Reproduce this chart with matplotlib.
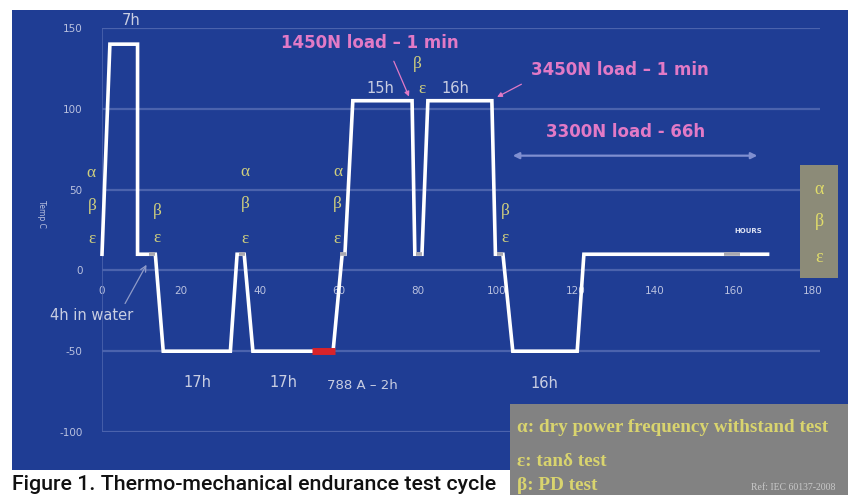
import matplotlib
matplotlib.use("Agg")
import matplotlib.pyplot as plt
from matplotlib.patches import Rectangle

plt.rcParams["axes.unicode_minus"] = False

# ---------------- data ----------------
time_h = [0, 2, 9, 9, 13.5, 15.5, 32.5, 34.2, 36, 38.2, 58.5, 60.8, 61.5, 63.5,
          78.5, 79.2, 81, 82.5, 98.7, 99.6, 101.5, 104, 120.3, 122, 168.5]
temp_c = [10, 140, 140, 10, 10, -50, -50, 10, 10, -50, -50, 10, 10, 105,
          105, 10, 10, 105, 105, 10, 10, -50, -50, 10, 10]
current_t = [53.2, 59.0]
current_T = [-50, -50]
test_marks_t = [[11.8, 13.4], [34.8, 36.3], [60.3, 61.8], [79.5, 81.0], [100.0, 101.6], [157.5, 161.5]]
test_marks_T = [10, 10, 10, 10, 10, 10]
x_ticks = [0, 20, 40, 60, 80, 100, 120, 140, 160, 180]
y_ticks = [-100, -50, 0, 50, 100, 150]

duration_labels = ["7h", "15h", "16h", "17h", "17h", "16h"]
duration_t = [7.3, 70.5, 89.5, 24.2, 46.0, 112.0]
duration_T = [154.5, 112.5, 112.5, -69.5, -69.5, -70]

greek_labels = ["α", "β", "ε", "β", "ε", "α", "β", "ε", "α", "β", "ε", "β", "ε", "β", "ε"]
greek_t = [-2.7, -2.5, -2.5, 13.9, 13.9, 36.2, 36.2, 36.2, 59.6, 59.6, 59.6, 79.7, 80.9, 102.0, 102.0]
greek_T = [60, 40, 19.5, 37, 20, 61, 41, 19.5, 61, 41, 19.5, 127.5, 112.5, 37, 20]

load_labels = ["1450N load – 1 min", "3450N load – 1 min", "3300N load - 66h"]
load_t = [67.8, 131.0, 132.5]
load_T = [140.5, 124, 85.5]

legend_lines = ["α: dry power frequency withstand test", "ε: tanδ test", "β: PD test"]

# ---------------- colours ----------------
BLUE = "#1f3d94"
GRID = "#4b63ad"
TICK = "#b9c1df"
LIGHT = "#c9cee2"
YELLOW = "#cfcf7e"
PINK = "#e27ac6"
GREYBOX = "#828282"

W, H = 848, 495
fig = plt.figure(figsize=(W / 100, H / 100), dpi=100)
fig.patch.set_facecolor("white")

def fx(px):
    return px / W

def fy(py):
    return 1 - py / H

# blue panel
fig.patches.append(Rectangle((fx(12), fy(470)), fx(848 - 12), (470 - 10) / H,
                             transform=fig.transFigure, facecolor=BLUE, edgecolor="none", zorder=0))

ax = fig.add_axes([fx(102), fy(432), fx(820 - 102), (432 - 28) / H])
ax.set_zorder(2)
ax.set_facecolor("none")
ax.set_xlim(0, (820 - 102) / 3.95)
ax.set_ylim(-100, 150)
for s in ["top", "right", "left"]:
    ax.spines[s].set_visible(False)
ax.spines["bottom"].set_position(("data", 0))
ax.spines["bottom"].set_visible(False)
ax.set_xticks(x_ticks)
ax.set_yticks(y_ticks)
ax.tick_params(axis="x", length=0, pad=11, labelsize=7.5, labelcolor=TICK)
ax.tick_params(axis="y", length=0, pad=14, labelsize=7.5, labelcolor=TICK)
ax.yaxis.grid(True, color=GRID, lw=1.6)
ax.set_axisbelow(True)
ax.set_ylabel("Temp C", color=TICK, fontsize=5.5, rotation=270, labelpad=22)
ax.yaxis.set_label_coords(-0.091, 0.54)

# vertical axis line at x=0
ax.axvline(0, color=GRID, lw=1.2, zorder=1)

# main cycle
ax.plot(time_h, temp_c, color="white", lw=2.6, solid_joinstyle="miter", zorder=3, clip_on=False)
# test points (grey)
for tt, TT in zip(test_marks_t, test_marks_T):
    ax.plot(tt, [TT, TT], color="#a8a8b0", lw=2.6, zorder=4, solid_capstyle="butt")
# current load (red)
ax.plot(current_t, current_T, color="#d8232a", lw=5, zorder=4, solid_capstyle="butt")

for lab, t, T in zip(duration_labels, duration_t, duration_T):
    ax.text(t, T, lab, color=LIGHT, fontsize=10.5, ha="center", va="center", clip_on=False)

ax.text(65.8, -71.5, "788 A – 2h", color=LIGHT, fontsize=9.5, ha="center", va="center")
ax.text(-2.5, -28, "4h in water", color=LIGHT, fontsize=10.5, ha="center", va="center", clip_on=False)
ax.annotate("", xy=(11.6, 5), xytext=(5.5, -22),
            arrowprops=dict(arrowstyle="->", color="#8f9bc8", lw=0.9))

for lab, t, T in zip(greek_labels, greek_t, greek_T):
    ax.text(t, T, lab, color=YELLOW, fontsize=12.5, ha="center", va="center",
            family="Liberation Serif", clip_on=False)

for lab, t, T in zip(load_labels, load_t, load_T):
    ax.text(t, T, lab, color=PINK, fontsize=12, fontweight="bold", ha="center", va="center")

ax.annotate("", xy=(78.0, 106), xytext=(73.6, 131),
            arrowprops=dict(arrowstyle="-|>", color=PINK, lw=0.9, mutation_scale=7))
ax.annotate("", xy=(99.4, 106.5), xytext=(106.8, 116),
            arrowprops=dict(arrowstyle="-|>", color=PINK, lw=0.9, mutation_scale=7))
ax.annotate("", xy=(103.3, 71), xytext=(166.6, 71),
            arrowprops=dict(arrowstyle="<|-|>", color="#7f8fd0", lw=1.6, mutation_scale=9))

ax.text(163.5, 24.5, "HOURS", color="#dde2f2", fontsize=5, fontweight="bold", ha="center", va="center")

# small grey legend strip on the right
fig.patches.append(Rectangle((fx(800), fy(278)), fx(38), (278 - 165) / H,
                             transform=fig.transFigure, facecolor="#8c8b78", edgecolor="none", zorder=5))
for lab, py in zip(["α", "β", "ε"], [190, 222, 258]):
    fig.text(fx(819), fy(py), lab, color="#e0dc6a", fontsize=13, ha="center", va="center",
             family="Liberation Serif", zorder=6)

# bottom-right legend box
fig.patches.append(Rectangle((fx(510), 0), fx(848 - 510), (495 - 404) / H,
                             transform=fig.transFigure, facecolor=GREYBOX, edgecolor="none", zorder=5))
for lab, py in zip(legend_lines, [428, 461, 485]):
    fig.text(fx(517), fy(py), lab, color="#d9d46e", fontsize=13.8, fontweight="bold", ha="left",
             va="center", family="Liberation Serif", zorder=6)
fig.text(fx(835), fy(487), "Ref: IEC 60137-2008", color="#c9c9c9", fontsize=7, ha="right",
         va="center", family="Liberation Serif", zorder=6)

# caption
fig.text(fx(12), fy(490), "Figure 1. Thermo-mechanical endurance test cycle", color="#111111",
         fontsize=15.4, family="Roboto", fontweight="medium", ha="left", va="baseline")

fig.savefig("out.png", dpi=100, facecolor="white")
